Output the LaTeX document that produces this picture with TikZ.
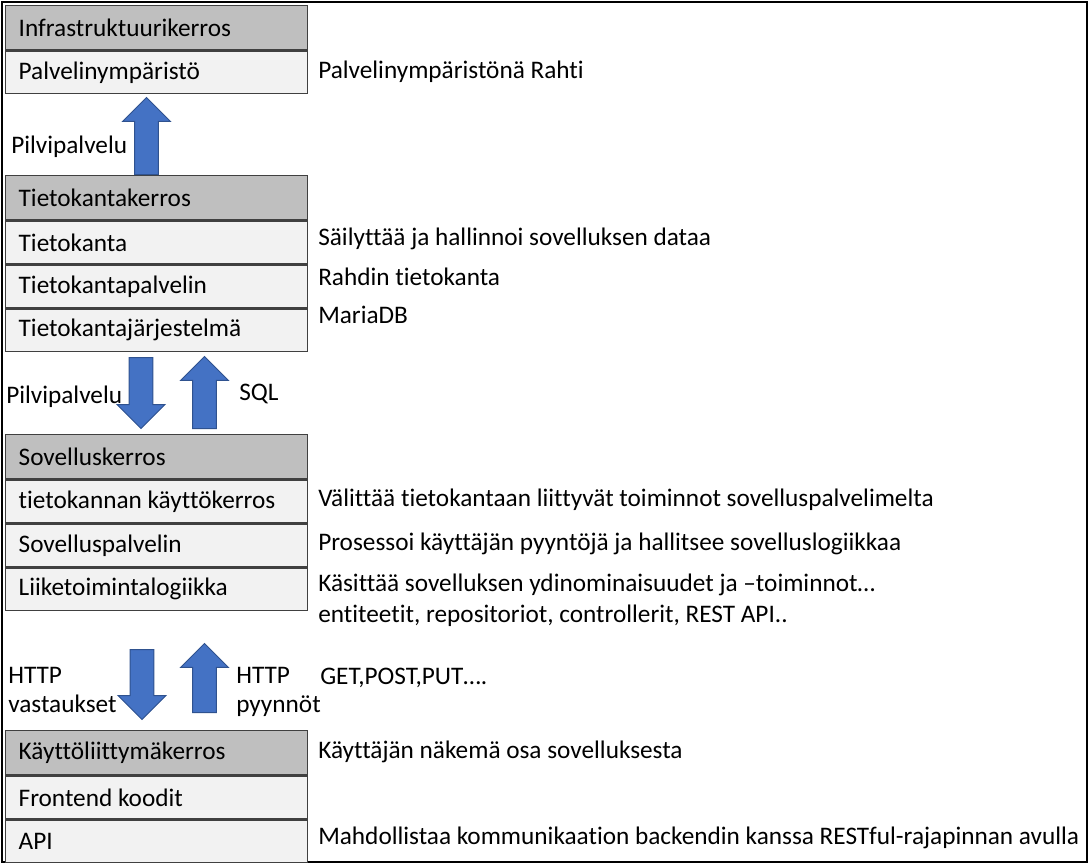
\documentclass[tikz,border=0pt]{standalone}
\usepackage{fontspec}
\setmainfont{Carlito}[Ligatures=NoCommon]
\usetikzlibrary{positioning,shapes.arrows}
\definecolor{headgray}{HTML}{BFBFBF}
\definecolor{rowgray}{HTML}{F2F2F2}
\definecolor{boxline}{HTML}{404040}
\definecolor{arrowfill}{HTML}{4472C4}
\definecolor{arrowline}{HTML}{2F528F}
\tikzset{
	layerhead/.style={draw=boxline, line width=1pt, fill=headgray, minimum width=226.5pt,
		minimum height=33pt, inner xsep=9.5pt, text width=207pt, align=flush left},
	layerrow/.style={layerhead, fill=rowgray, minimum height=32pt},
	note/.style={anchor=base west, inner sep=0pt},
	blockarrow/.style={single arrow, draw=arrowline, fill=arrowfill, line width=0.75pt,
		inner sep=8.6pt, single arrow head extend=9pt, minimum height=#1, anchor=tail},
}
\begin{document}
\begin{tikzpicture}[x=0.75pt,y=-0.75pt,font=\fontsize{18.95}{22}\selectfont]
	\useasboundingbox (0,0) rectangle (1090,865);
	\draw[line width=2.2pt] (2,2) rectangle (1087,862);
	% infrastruktuurikerros
	\node[layerhead, anchor=north west] (infra) at (5,5) {Infrastruktuurikerros};
	\node[layerrow, below=0pt of infra] (palvenv) {Palvelinympäristö};
	% tietokantakerros
	\node[layerhead, anchor=north west] (db) at (5,175) {Tietokantakerros};
	\node[layerrow, below=0pt of db] (dbbase) {Tietokanta};
	\node[layerrow, below=0pt of dbbase] (dbserver) {Tietokantapalvelin};
	\node[layerrow, below=0pt of dbserver] (dbms) {Tietokantajärjestelmä};
	% sovelluskerros
	\node[layerhead, anchor=north west] (app) at (5,434) {Sovelluskerros};
	\node[layerrow, below=0pt of app] (dblayer) {tietokannan käyttökerros};
	\node[layerrow, below=0pt of dblayer] (appserver) {Sovelluspalvelin};
	\node[layerrow, below=0pt of appserver] (logic) {Liiketoimintalogiikka};
	% kayttoliittymakerros
	\node[layerhead, anchor=north west] (ui) at (5,730) {Käyttöliittymäkerros};
	\node[layerrow, below=0pt of ui] (front) {Frontend koodit};
	\node[layerrow, below=0pt of front] (api) {API};
	% nuolet
	\node[blockarrow=57.75pt, rotate=90] (upcloud) at (146.5,175) {};
	\node[blockarrow=53.25pt, rotate=-90] (downcloud) at (141,357) {};
	\node[blockarrow=54pt, rotate=90] (upsql) at (204.5,429) {};
	\node[blockarrow=52.5pt, rotate=-90] (downhttp) at (142,649) {};
	\node[blockarrow=51.75pt, rotate=90] (uphttp) at (204.5,713) {};
	% nuolten tekstit
	\node[note] (cloudlbl) at (11,153) {Pilvipalvelu};
	\node[note] (cloudlbltwo) at (6,403) {Pilvipalvelu};
	\node[note] (sqllbl) at (239,400) {SQL};
	\node[note] (resplbl) at (8,683) {HTTP};
	\node[note] (resplbltwo) at (8,712) {vastaukset};
	\node[note] (reqlbl) at (236,683) {HTTP};
	\node[note] (reqlbltwo) at (236,712) {pyynnöt};
	% selitteet
	\node[note] (envnote) at (318,78) {Palvelinympäristönä Rahti};
	\node[note] (dbnote) at (318,245) {Säilyttää ja hallinnoi sovelluksen dataa};
	\node[note] (servernote) at (318,285) {Rahdin tietokanta};
	\node[note] (dbmsnote) at (318,323) {MariaDB};
	\node[note] (dblayernote) at (318,506) {Välittää tietokantaan liittyvät toiminnot sovelluspalvelimelta};
	\node[note] (appnote) at (318,550) {Prosessoi käyttäjän pyyntöjä ja hallitsee sovelluslogiikkaa};
	\node[note] (logicnote) at (318,591) {Käsittää sovelluksen ydinominaisuudet ja –toiminnot…};
	\node[note] (logicnotetwo) at (318,622) {entiteetit, repositoriot, controllerit, REST API..};
	\node[note] (httpnote) at (320,684) {GET,POST,PUT….};
	\node[note] (uinote) at (318,758) {Käyttäjän näkemä osa sovelluksesta};
	\node[note] (apinote) at (318,844) {Mahdollistaa kommunikaation backendin kanssa RESTful-rajapinnan avulla};
\end{tikzpicture}
\end{document}
